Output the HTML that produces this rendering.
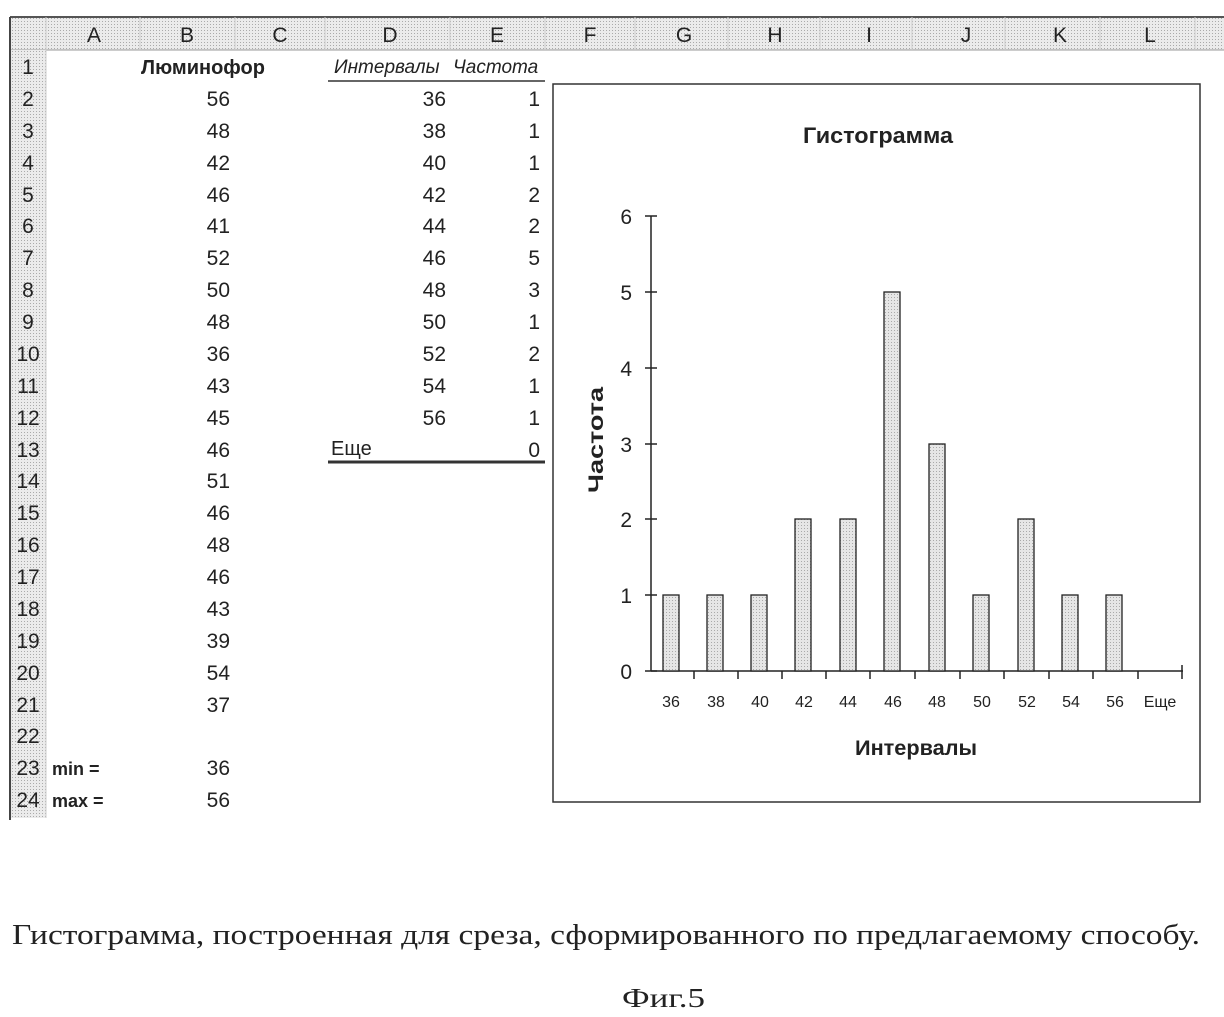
<!DOCTYPE html>
<html><head><meta charset="utf-8"><style>
html,body{margin:0;padding:0;background:#fff;}
svg{display:block;}
text{font-family:"Liberation Sans","DejaVu Sans",sans-serif;fill:#222;}
.n{font-size:21px;}
.serif{font-family:"Liberation Serif","DejaVu Serif",serif;}
</style></head><body>
<svg width="1224" height="1017" viewBox="0 0 1224 1017" xmlns="http://www.w3.org/2000/svg">
<defs>
<pattern id="dot" width="3" height="3" patternUnits="userSpaceOnUse">
<rect width="3" height="3" fill="#e6e6e6"/><rect width="1" height="1" fill="#aaa"/>
</pattern>
<pattern id="hdr" width="3" height="3" patternUnits="userSpaceOnUse">
<rect width="3" height="3" fill="#ebebeb"/><rect width="1" height="1" fill="#aaa"/>
</pattern>
</defs>
<rect x="10" y="17" width="1214" height="33" fill="url(#hdr)"/>
<line x1="10" y1="17" x2="1224" y2="17" stroke="#555" stroke-width="2"/>
<line x1="10" y1="50" x2="1224" y2="50" stroke="#999" stroke-width="1"/>
<rect x="10" y="50" width="36" height="768" fill="url(#hdr)"/>
<line x1="10" y1="17" x2="10" y2="820" stroke="#444" stroke-width="2"/>
<g stroke="#ccc" stroke-width="1">
<line x1="46" y1="17" x2="46" y2="818"/>
<line x1="140" y1="17" x2="140" y2="50"/><line x1="235" y1="17" x2="235" y2="50"/>
<line x1="325" y1="17" x2="325" y2="50"/><line x1="450" y1="17" x2="450" y2="50"/>
<line x1="545" y1="17" x2="545" y2="50"/><line x1="635" y1="17" x2="635" y2="50"/>
<line x1="728" y1="17" x2="728" y2="50"/><line x1="820" y1="17" x2="820" y2="50"/>
<line x1="912" y1="17" x2="912" y2="50"/><line x1="1005" y1="17" x2="1005" y2="50"/>
<line x1="1100" y1="17" x2="1100" y2="50"/><line x1="1195" y1="17" x2="1195" y2="50"/>
</g>
<g class="n" text-anchor="middle" font-size="21">
<text x="94" y="42">A</text><text x="187" y="42">B</text><text x="280" y="42">C</text>
<text x="390" y="42">D</text><text x="497" y="42">E</text><text x="590" y="42">F</text>
<text x="684" y="42">G</text><text x="775" y="42">H</text><text x="869" y="42">I</text>
<text x="966" y="42">J</text><text x="1060" y="42">K</text><text x="1150" y="42">L</text>
</g>
<g class="n" text-anchor="middle" font-size="21">
<text x="28" y="74">1</text><text x="28" y="106">2</text><text x="28" y="138">3</text><text x="28" y="170">4</text>
<text x="28" y="202">5</text><text x="28" y="233">6</text><text x="28" y="265">7</text><text x="28" y="297">8</text>
<text x="28" y="329">9</text><text x="28" y="361">10</text><text x="28" y="393">11</text><text x="28" y="425">12</text>
<text x="28" y="457">13</text><text x="28" y="488">14</text><text x="28" y="520">15</text><text x="28" y="552">16</text>
<text x="28" y="584">17</text><text x="28" y="616">18</text><text x="28" y="648">19</text><text x="28" y="680">20</text>
<text x="28" y="712">21</text><text x="28" y="743">22</text><text x="28" y="775">23</text><text x="28" y="807">24</text>
</g>
<text x="203" y="74" text-anchor="middle" font-size="20" font-weight="bold">Люминофор</text>
<g class="n" text-anchor="end" font-size="21">
<text x="230" y="106">56</text><text x="230" y="138">48</text><text x="230" y="170">42</text><text x="230" y="202">46</text>
<text x="230" y="233">41</text><text x="230" y="265">52</text><text x="230" y="297">50</text><text x="230" y="329">48</text>
<text x="230" y="361">36</text><text x="230" y="393">43</text><text x="230" y="425">45</text><text x="230" y="457">46</text>
<text x="230" y="488">51</text><text x="230" y="520">46</text><text x="230" y="552">48</text><text x="230" y="584">46</text>
<text x="230" y="616">43</text><text x="230" y="648">39</text><text x="230" y="680">54</text><text x="230" y="712">37</text>
<text x="230" y="775">36</text><text x="230" y="807">56</text>
</g>
<text x="52" y="775" font-size="18" font-weight="bold">min =</text>
<text x="52" y="807" font-size="18" font-weight="bold">max =</text>
<text x="334" y="73" font-size="19" font-style="italic">Интервалы</text>
<text x="453" y="73" font-size="19" font-style="italic">Частота</text>
<line x1="328" y1="81" x2="545" y2="81" stroke="#333" stroke-width="1.5"/>
<g class="n" text-anchor="end" font-size="21">
<text x="446" y="106">36</text><text x="446" y="138">38</text><text x="446" y="170">40</text><text x="446" y="202">42</text>
<text x="446" y="233">44</text><text x="446" y="265">46</text><text x="446" y="297">48</text><text x="446" y="329">50</text>
<text x="446" y="361">52</text><text x="446" y="393">54</text><text x="446" y="425">56</text>
<text x="540" y="106">1</text><text x="540" y="138">1</text><text x="540" y="170">1</text><text x="540" y="202">2</text>
<text x="540" y="233">2</text><text x="540" y="265">5</text><text x="540" y="297">3</text><text x="540" y="329">1</text>
<text x="540" y="361">2</text><text x="540" y="393">1</text><text x="540" y="425">1</text><text x="540" y="457">0</text>
</g>
<text x="331" y="455" font-size="20">Еще</text>
<line x1="328" y1="462" x2="545" y2="462" stroke="#333" stroke-width="3"/>
<rect x="553" y="84" width="647" height="718" fill="#fff" stroke="#333" stroke-width="1.5"/>
<text x="878" y="143" text-anchor="middle" font-size="22" font-weight="bold" textLength="150" lengthAdjust="spacingAndGlyphs">Гистограмма</text>
<text transform="translate(603,440) rotate(-90)" text-anchor="middle" font-size="21" font-weight="bold" textLength="106" lengthAdjust="spacingAndGlyphs">Частота</text>
<text x="916" y="755" text-anchor="middle" font-size="21" font-weight="bold" textLength="122" lengthAdjust="spacingAndGlyphs">Интервалы</text>
<g stroke="#222" stroke-width="1.5">
<line x1="651" y1="216" x2="651" y2="671"/>
<line x1="651" y1="671" x2="1183" y2="671"/>
<line x1="645" y1="216" x2="657" y2="216"/><line x1="645" y1="292" x2="657" y2="292"/>
<line x1="645" y1="368" x2="657" y2="368"/><line x1="645" y1="444" x2="657" y2="444"/>
<line x1="645" y1="519" x2="657" y2="519"/><line x1="645" y1="595" x2="657" y2="595"/>
<line x1="645" y1="671" x2="657" y2="671"/>
</g>
<g class="n" text-anchor="end" font-size="21">
<text x="632" y="224">6</text><text x="632" y="300">5</text><text x="632" y="376">4</text>
<text x="632" y="452">3</text><text x="632" y="527">2</text><text x="632" y="603">1</text><text x="632" y="679">0</text>
</g>
<g fill="url(#dot)" stroke="#222" stroke-width="1.3">
<rect x="663" y="595" width="16" height="76"/>
<rect x="707" y="595" width="16" height="76"/>
<rect x="751" y="595" width="16" height="76"/>
<rect x="795" y="519" width="16" height="152"/>
<rect x="840" y="519" width="16" height="152"/>
<rect x="884" y="292" width="16" height="379"/>
<rect x="929" y="444" width="16" height="227"/>
<rect x="973" y="595" width="16" height="76"/>
<rect x="1018" y="519" width="16" height="152"/>
<rect x="1062" y="595" width="16" height="76"/>
<rect x="1106" y="595" width="16" height="76"/>
</g>
<g stroke="#222" stroke-width="1.5">
<line x1="694" y1="671" x2="694" y2="679"/><line x1="738" y1="671" x2="738" y2="679"/>
<line x1="782" y1="671" x2="782" y2="679"/><line x1="826" y1="671" x2="826" y2="679"/>
<line x1="870" y1="671" x2="870" y2="679"/><line x1="915" y1="671" x2="915" y2="679"/>
<line x1="960" y1="671" x2="960" y2="679"/><line x1="1004" y1="671" x2="1004" y2="679"/>
<line x1="1049" y1="671" x2="1049" y2="679"/><line x1="1093" y1="671" x2="1093" y2="679"/>
<line x1="1138" y1="671" x2="1138" y2="679"/><line x1="1182" y1="665" x2="1182" y2="679"/>
</g>
<g text-anchor="middle" font-size="16">
<text x="671" y="707">36</text><text x="716" y="707">38</text><text x="760" y="707">40</text>
<text x="804" y="707">42</text><text x="848" y="707">44</text><text x="893" y="707">46</text>
<text x="937" y="707">48</text><text x="982" y="707">50</text><text x="1027" y="707">52</text>
<text x="1071" y="707">54</text><text x="1115" y="707">56</text><text x="1160" y="707">Еще</text>
</g>
<text class="serif" x="12" y="944" font-size="29" textLength="1188" lengthAdjust="spacingAndGlyphs">Гистограмма, построенная для среза, сформированного по предлагаемому способу.</text>
<text class="serif" x="622" y="1007" font-size="27" textLength="83" lengthAdjust="spacingAndGlyphs">Фиг.5</text>
</svg>
</body></html>
